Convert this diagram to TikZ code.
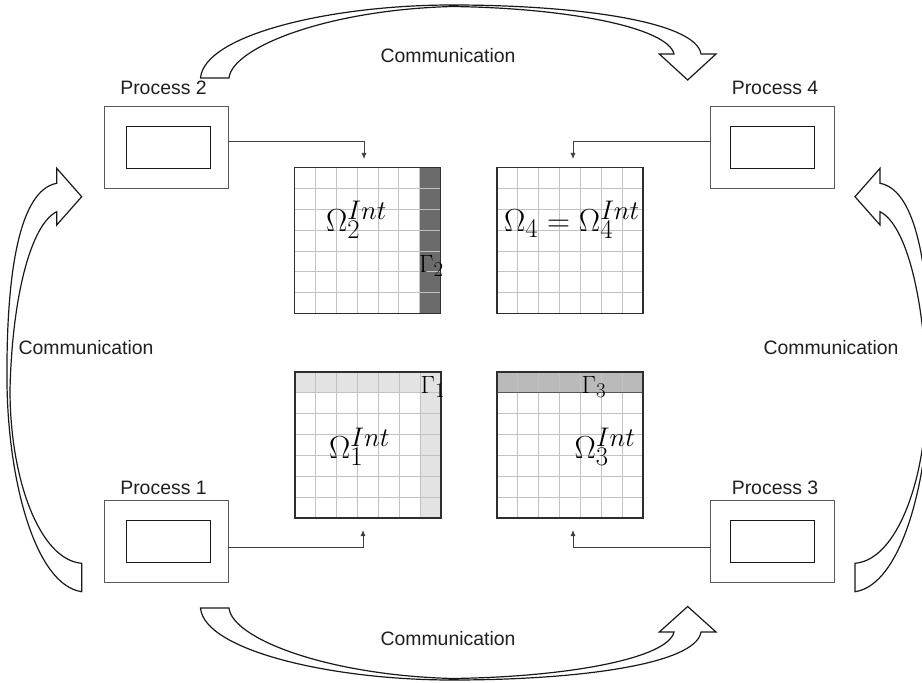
\RequirePackage{fix-cm}
\documentclass[tikz,border=0pt]{standalone}
\usepackage{fontspec}
\newfontfamily\labelfont{Liberation Sans}
\usetikzlibrary{arrows.meta}
\DeclareMathSizes{32}{32}{27}{22}
\DeclareMathSizes{25}{25}{21}{17}

% 7x7 mesh of thin lines inside a square of side 146 with top-left corner (#1,#2)
\newcommand\meshlines[2]{%
  \foreach \k in {1,...,6}{%
    \draw[meshline] ({#1+\k*146/7},#2) -- ++(0,146);
    \draw[meshline] (#1,{#2+\k*146/7}) -- ++(146,0);
  }}

\begin{document}
\begin{tikzpicture}[x=1bp,y=-1bp,
  procbox/.style={draw=black!65,line width=0.9bp,minimum width=124bp,minimum height=82bp,inner sep=0},
  innerbox/.style={draw=black!90,line width=0.9bp,minimum width=84bp,minimum height=42bp,inner sep=0},
  plabel/.style={font=\labelfont\fontsize{19.5}{22}\selectfont,text=black!88,inner sep=0,anchor=base},
  link/.style={draw=black!75,line width=0.8bp,-{Latex[length=6bp,width=5bp]}},
  meshline/.style={draw=black!24,line width=0.8bp},
  meshframe/.style={draw=black!82,line width=1.3bp,minimum width=146bp,minimum height=146bp,inner sep=0},
  bigarrow/.style={draw=black!90,line width=1.2bp,line join=miter,fill=white},
  omlabel/.style={font=\fontsize{32}{38}\selectfont,inner sep=0,anchor=base west},
  gmlabel/.style={font=\fontsize{25}{30}\selectfont,inner sep=0,anchor=base west}]
\useasboundingbox (0,0) rectangle (922,683);
\fill[white] (0,0) rectangle (922,683);

% ---- processes ----
\node[procbox]  (p2)  at (166,147) {};
\node[innerbox] (p2i) at (168,147) {};
\node[plabel]   (l2)  at (163.5,95) {Process 2};
\node[procbox]  (p1)  at (166,541) {};
\node[innerbox] (p1i) at (168,541) {};
\node[plabel]   (l1)  at (163.5,494) {Process 1};
\node[procbox]  (p4)  at (772,147) {};
\node[innerbox] (p4i) at (772.5,147) {};
\node[plabel]   (l4)  at (775,95) {Process 4};
\node[procbox]  (p3)  at (772,541) {};
\node[innerbox] (p3i) at (772.5,541) {};
\node[plabel]   (l3)  at (775,494) {Process 3};

% ---- subdomain meshes ----
% Omega_2 : dark interface column on the right
\fill[black!58] ({294.5+6*146/7},167.5) rectangle (440.5,313.5);
\meshlines{294.5}{167.5}
\node[meshframe] (g2) at (367.5,240.5) {};
% Omega_4 : no interface
\meshlines{497}{167.5}
\node[meshframe] (g4) at (570,240.5) {};
% Omega_1 : light interface on top row and right column
\fill[black!11] (295,372) rectangle (441,{372+146/7});
\fill[black!11] ({295+6*146/7},372) rectangle (441,518);
\meshlines{295}{372}
\node[meshframe] (g1) at (368,445) {};
% Omega_3 : medium interface on top row
\fill[black!27] (497,372) rectangle (643,{372+146/7});
\meshlines{497}{372}
\draw[black!65,line width=1bp] (497,{372+146/7}) -- (643,{372+146/7});
\node[meshframe] (g3) at (570,445) {};

% ---- labels in the meshes ----
\node[omlabel] (o2) at (326,231) {$\Omega_2^{Int}$};
\node[gmlabel] (c2) at (419,272) {$\Gamma_2$};
\node[omlabel] (o4) at (504,231) {$\Omega_4=\Omega_4^{Int}$};
\node[gmlabel] (c1) at (420.5,393) {$\Gamma_1$};
\node[omlabel] (o1) at (329,458) {$\Omega_1^{Int}$};
\node[gmlabel] (c3) at (581.5,393) {$\Gamma_3$};
\node[omlabel] (o3) at (574.5,458) {$\Omega_3^{Int}$};

% ---- process-to-mesh links ----
\coordinate (t2) at (364,159);
\coordinate (t4) at (573,159);
\coordinate (t1) at (363,530);
\coordinate (t3) at (573,530);
\draw[link] ([yshift=6bp]p2.east) -| (t2);
\draw[link] ([yshift=6bp]p4.west) -| (t4);
\draw[link] ([yshift=-6bp]p1.east) -| (t1);
\draw[link] ([yshift=-6bp]p3.west) -| (t3);

% ---- communication block arrows ----
% top: process 2 -> process 4
\draw[bigarrow] (200.5,78) .. controls (204,35) and (330,5) .. (452,5)
  .. controls (580,5) and (696,22) .. (701,54)
  -- (716,54) -- (687.7,80) -- (659.3,54) -- (674,54)
  .. controls (668,28) and (570,8) .. (452,6.5)
  .. controls (325,10) and (232,48) .. (229,78) -- cycle;
% bottom: process 1 -> process 3
\draw[bigarrow] (200.5,608) .. controls (204,650) and (330,680) .. (452,680)
  .. controls (580,680) and (696,664) .. (701,632)
  -- (716,632) -- (687.7,606.5) -- (659.3,632) -- (674,632)
  .. controls (668,658) and (570,677) .. (452,678.5)
  .. controls (325,675) and (232,638) .. (229,608) -- cycle;
% left: process 1 -> process 2
\draw[bigarrow] (81.7,591.7) .. controls (35,585) and (8,480) .. (7,383)
  .. controls (6,270) and (20,190) .. (56.7,183.3)
  -- (56.7,168.3) -- (81.7,196.7) -- (56.7,225) -- (56.7,211.7)
  .. controls (30,225) and (12,300) .. (10,390)
  .. controls (10,480) and (40,560) .. (81.7,563.3) -- cycle;
% right: process 3 -> process 4 (mirror image, running past the edge)
\begin{scope}
\clip (0,0) rectangle (922,683);
\begin{scope}[shift={(936.7,0)},xscale=-1]
\draw[bigarrow] (81.7,591.7) .. controls (35,585) and (8,480) .. (7,383)
  .. controls (6,270) and (20,190) .. (56.7,183.3)
  -- (56.7,168.3) -- (81.7,196.7) -- (56.7,225) -- (56.7,211.7)
  .. controls (30,225) and (12,300) .. (10,390)
  .. controls (10,480) and (40,560) .. (81.7,563.3) -- cycle;
\end{scope}
\end{scope}

% ---- communication labels ----
\node[plabel] (ct) at (448,63) {Communication};
\node[plabel] (cb) at (448,645) {Communication};
\node[plabel] (cl) at (86,354) {Communication};
\node[plabel] (cr) at (831,354) {Communication};
\end{tikzpicture}
\end{document}
